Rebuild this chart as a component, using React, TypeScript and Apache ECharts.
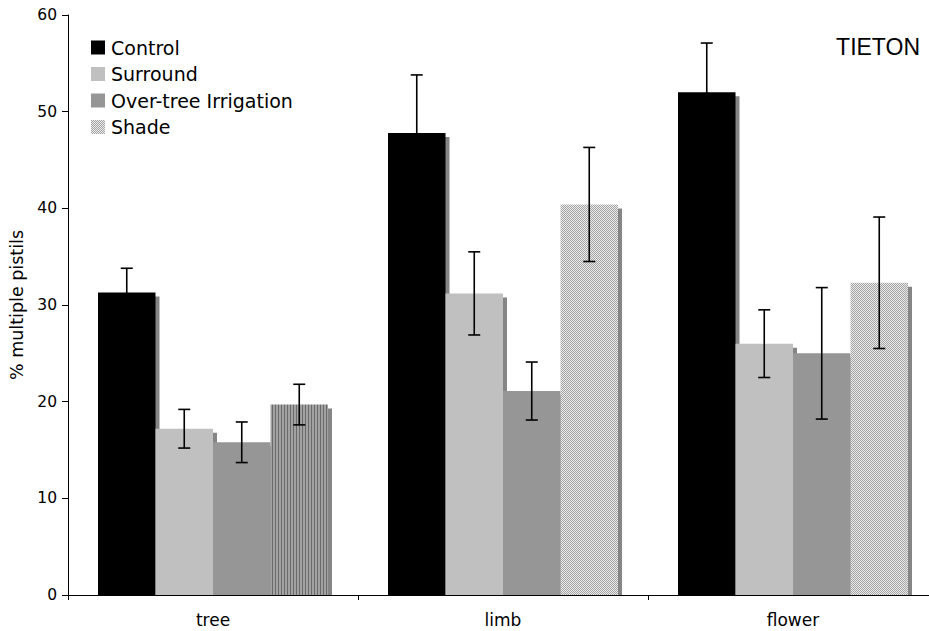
import React, { useEffect, useRef } from "react";
import * as echarts from "echarts";

const categories = ["tree", "limb", "flower"];
const seriesNames = ["Control", "Surround", "Over-tree Irrigation", "Shade"];
const controlValues = [31.3, 47.8, 52.0];
const surroundValues = [17.2, 31.2, 26.0];
const irrigationValues = [15.8, 21.1, 25.0];
const shadeValues = [19.7, 40.4, 32.3];
const controlErr = [2.5, 6.0, 5.1];
const surroundErr = [2.0, 4.3, 3.5];
const irrigationErr = [2.1, 3.0, 6.8];
const shadeErr = [2.1, 5.9, 6.8];
const yTicks = [0, 10, 20, 30, 40, 50, 60];

function makeChecker() {
  const c = document.createElement("canvas");
  c.width = 2;
  c.height = 2;
  const ctx = c.getContext("2d")!;
  ctx.fillStyle = "#ebebeb";
  ctx.fillRect(0, 0, 2, 2);
  ctx.fillStyle = "#a4a4a4";
  ctx.fillRect(0, 0, 1, 1);
  ctx.fillRect(1, 1, 1, 1);
  return c;
}

function makeStripes() {
  const c = document.createElement("canvas");
  c.width = 3;
  c.height = 3;
  const ctx = c.getContext("2d")!;
  ctx.fillStyle = "#a2a2a2";
  ctx.fillRect(0, 0, 3, 3);
  ctx.fillStyle = "#6a6a6a";
  ctx.fillRect(2, 0, 1, 3);
  return c;
}

export default function App() {
  const ref = useRef<HTMLDivElement>(null);
  useEffect(() => {
    if (!ref.current) return;
    const chart = echarts.init(ref.current, null, { renderer: "svg" });
    const checker = { image: makeChecker(), repeat: "repeat" } as any;
    const stripes = { image: makeStripes(), repeat: "repeat" } as any;
    const allValues = [controlValues, surroundValues, irrigationValues, shadeValues];
    const allErr = [controlErr, surroundErr, irrigationErr, shadeErr];
    const colors: any[] = ["#000000", "#c0c0c0", "#969696", checker];
    const barFrac = 230 / 290;

    const flat: number[][] = [];
    allValues.forEach((vals, s) =>
      vals.forEach((v, c) => flat.push([c, s, v, allErr[s][c]]))
    );

    const font = "DejaVu Sans, Verdana, sans-serif";

    const barSeries = allValues.map((vals, s) => ({
      name: seriesNames[s],
      type: "bar",
      barWidth: 57.5,
      barGap: "0%",
      z: 3,
      itemStyle: { color: colors[s] },
      data: vals.map((v, c) =>
        s === 3 && c === 0 ? { value: v, itemStyle: { color: stripes } } : v
      ),
    }));

    const option: any = {
      animation: false,
      grid: {
        left: 68,
        top: 15,
        width: 870,
        height: 580,
        containLabel: false,
        outerBoundsMode: "none",
      },
      legend: {
        orient: "vertical",
        left: 91,
        top: 38,
        padding: 0,
        itemWidth: 14,
        itemHeight: 14,
        itemGap: 7.5,
        icon: "rect",
        data: seriesNames,
        textStyle: {
          fontFamily: font,
          fontSize: 19,
          color: "#000",
          lineHeight: 19,
          padding: [0, 0, 0, 1],
        },
      },
      xAxis: {
        type: "category",
        data: categories,
        axisLine: { lineStyle: { color: "#000", width: 1 } },
        axisTick: { show: true, length: 5, lineStyle: { color: "#000" } },
        axisLabel: { fontFamily: font, fontSize: 17, color: "#000", margin: 16 },
      },
      yAxis: {
        type: "value",
        min: yTicks[0],
        max: yTicks[yTicks.length - 1],
        interval: 10,
        name: "% multiple pistils",
        nameLocation: "middle",
        nameGap: 42,
        nameTextStyle: { fontFamily: font, fontSize: 17.5, color: "#000" },
        splitLine: { show: false },
        axisLine: { show: true, lineStyle: { color: "#000", width: 1 } },
        axisTick: { show: true, length: 6, lineStyle: { color: "#000" } },
        axisLabel: { fontFamily: font, fontSize: 15.5, color: "#000", margin: 11 },
      },
      graphic: [
        {
          type: "text",
          right: 9,
          top: 35,
          style: {
            text: "TIETON",
            fontFamily: "Liberation Sans, Arial, sans-serif",
            fontSize: 23,
            fill: "#000",
          },
        },
      ],
      series: [
        {
          type: "custom",
          name: "shadow",
          z: 1,
          silent: true,
          encode: { x: 0, y: 2 },
          data: flat,
          renderItem: (params: any, api: any) => {
            const c = api.value(0);
            const s = api.value(1);
            const v = api.value(2);
            const catW = api.size([1, 0])[0];
            const bw = (catW * barFrac) / 4;
            const top = api.coord([c, v]);
            const zero = api.coord([c, 0]);
            const x = top[0] + (s - 1.5) * bw - bw / 2 + 4;
            const y = top[1] + 4;
            return {
              type: "rect",
              shape: { x, y, width: bw, height: Math.max(0, zero[1] - y) },
              style: { fill: "#858585" },
            };
          },
        },
        ...barSeries,
        {
          type: "custom",
          name: "errors",
          z: 5,
          silent: true,
          encode: { x: 0, y: 2 },
          data: flat,
          renderItem: (params: any, api: any) => {
            const c = api.value(0);
            const s = api.value(1);
            const v = api.value(2);
            const e = api.value(3);
            const catW = api.size([1, 0])[0];
            const bw = (catW * barFrac) / 4;
            const hi = api.coord([c, v + e]);
            const lo = api.coord([c, v - e]);
            const x = hi[0] + (s - 1.5) * bw;
            const cap = 6;
            const st = { stroke: "#000", lineWidth: 1.6 };
            return {
              type: "group",
              children: [
                { type: "line", shape: { x1: x, y1: hi[1], x2: x, y2: lo[1] }, style: st },
                { type: "line", shape: { x1: x - cap, y1: hi[1], x2: x + cap, y2: hi[1] }, style: st },
                { type: "line", shape: { x1: x - cap, y1: lo[1], x2: x + cap, y2: lo[1] }, style: st },
              ],
            };
          },
        },
      ],
    };
    chart.setOption(option);
    return () => chart.dispose();
  }, []);
  return (
    <div
      ref={ref}
      style={{ position: "fixed", left: 0, top: 0, width: 929, height: 631, background: "#fff" }}
    />
  );
}
